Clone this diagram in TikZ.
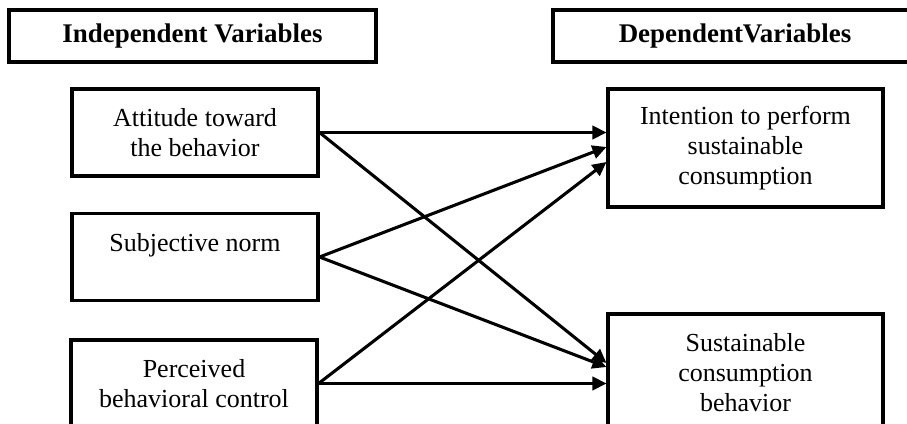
\documentclass[tikz,border=0pt]{standalone}
\usepackage{fontspec}
\setmainfont{Liberation Serif}
\usetikzlibrary{arrows.meta, positioning, calc}

\tikzset{
    varbox/.style={draw=black, line width=2.3pt, align=center,
        inner sep=0pt, font=\fontsize{19.5}{22.5}\selectfont},
    headbox/.style={varbox, minimum height=39pt, font=\fontsize{20.2}{23}\selectfont\bfseries},
    ivbox/.style={varbox, minimum width=184.5pt, minimum height=65.25pt},
    dvbox/.style={varbox, minimum width=206.25pt, minimum height=88.5pt},
    arr/.style={line width=2.3pt, -{Triangle[length=10.5pt,width=10pt]}}
}

\begin{document}
\begin{tikzpicture}[x=0.75pt, y=-0.75pt]

    % picture frame
    \useasboundingbox (0,0) rectangle (907,424);
    \clip (0,0) rectangle (907,424);

    % headers
    \node[headbox, minimum width=275.25pt] (ivhead) at (192.5,36) {Independent Variables};
    \node[headbox, minimum width=273pt] (dvhead) at (735,36) {DependentVariables};

    % independent variables
    \node[ivbox] (att) at (195,132.5) {Attitude toward\\the behavior};
    \node[ivbox] (sn)  at (195,257)   {Subjective norm\\\mbox{}};
    \node[ivbox] (pbc) at (194,383.5) {Perceived\\behavioral control};

    % dependent variables
    \node[dvbox] (int) at (745.5,148) {Intention to perform\\sustainable\\consumption};
    \node[dvbox] (sus) at (745.5,373) {Sustainable\\consumption\\behavior};

    % paths to intention
    \draw[arr] (att.east) -- (att.east -| int.west);
    \draw[arr] (sn.east)  -- ([yshift=0.75pt]int.west);
    \draw[arr] (pbc.east) -- ([yshift=-10.5pt]int.west);

    % paths to behavior
    \draw[arr] (att.east) -- ([yshift=7.5pt]sus.west);
    \draw[arr] (sn.east)  -- ([yshift=4.5pt]sus.west);
    \draw[arr] (pbc.east) -- (pbc.east -| sus.west);

\end{tikzpicture}
\end{document}
